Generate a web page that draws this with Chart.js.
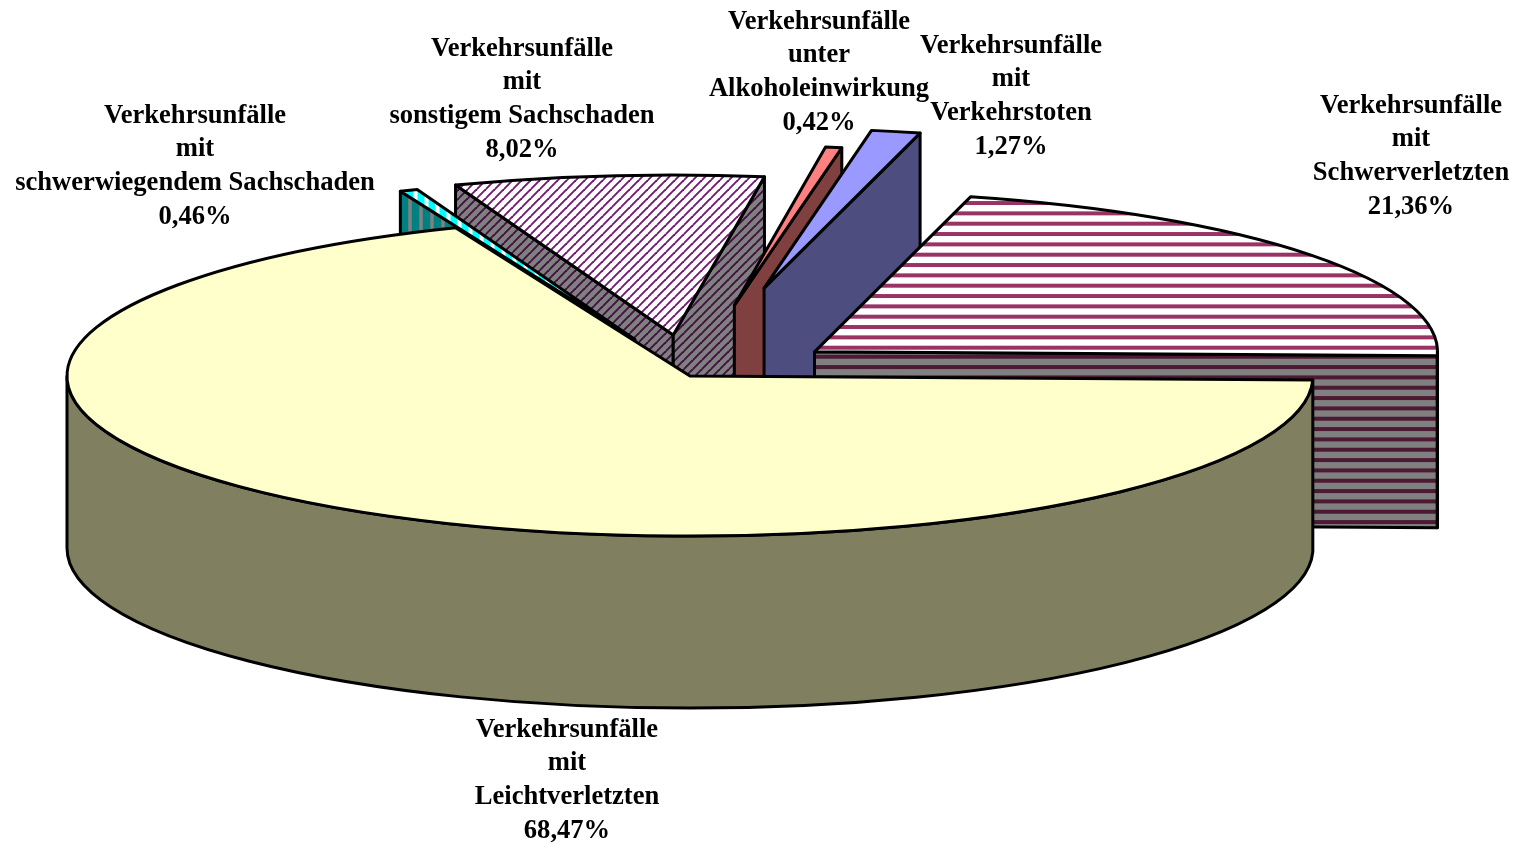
<!DOCTYPE html>
<html>
<head>
<meta charset="utf-8">
<style>
  body { margin: 0; background: #fff; }
  canvas { display: block; }
</style>
<script src="https://cdn.jsdelivr.net/npm/chart.js@4"></script>
</head>
<body>
<canvas id="unfallChart" width="1518" height="844"></canvas>
<script>
// data, in pie order (clockwise)
const categories = [
    ['Verkehrsunfälle', 'mit', 'Leichtverletzten'],
    ['Verkehrsunfälle', 'mit', 'schwerwiegendem Sachschaden'],
    ['Verkehrsunfälle', 'mit', 'sonstigem Sachschaden'],
    ['Verkehrsunfälle', 'unter', 'Alkoholeinwirkung'],
    ['Verkehrsunfälle', 'mit', 'Verkehrstoten'],
    ['Verkehrsunfälle', 'mit', 'Schwerverletzten']
];
const shares = [68.47, 0.46, 8.02, 0.42, 1.27, 21.36];

// 3d look
const TILT = 0.257;
const DEPTH = 172;
const explode = [0, 152, 160, 278, 350, 156];
const drawOrder = [2, 1, 3, 4, 5, 0];
const labelPos = [[567, 730], [195, 116], [522, 49], [819, 22], [1011, 46], [1411, 106]];
const LINE_H = 33.6;

function stripes(bg, fg, kind, tile, count, width, phase) {
    const c = document.createElement('canvas');
    c.width = c.height = tile;
    const g = c.getContext('2d');
    g.fillStyle = bg;
    g.fillRect(0, 0, tile, tile);
    g.strokeStyle = fg;
    g.lineWidth = width;
    const step = tile / count;
    for (let i = -1; i <= count + 1; i++) {
        const p = i * step + phase;
        g.beginPath();
        if (kind === 'h') { g.moveTo(0, p); g.lineTo(tile, p); }
        if (kind === 'v') { g.moveTo(p, 0); g.lineTo(p, tile); }
        if (kind === 'd') { g.moveTo(p - tile, tile); g.lineTo(p + tile, -tile); }
        g.stroke();
    }
    return g.createPattern(c, 'repeat');
}

const ctx = document.getElementById('unfallChart').getContext('2d');

const topFills = [
    '#FFFFCC',
    stripes('#FFFFFF', '#00FFFF', 'v', 44, 4, 7, 3),
    stripes('#FFFFFF', '#701A70', 'd', 9, 1, 1.9, 0),
    '#FF8080',
    '#9999FF',
    stripes('#FFFFFF', '#993366', 'h', 31, 3, 4, 6.7)
];
const wallFills = [
    '#808060',
    stripes('#008080', '#808080', 'v', 44, 4, 3.5, 3),
    stripes('#808080', '#401040', 'd', 9, 1, 1.9, 0),
    '#804040',
    '#4D4D80',
    stripes('#808080', '#4D1A33', 'h', 31, 3, 4, 5.4)
];

function face(g, pts, fill) {
    g.beginPath();
    pts.forEach(function (p, i) { i ? g.lineTo(p[0], p[1]) : g.moveTo(p[0], p[1]); });
    g.closePath();
    g.fillStyle = fill;
    g.fill();
    g.stroke();
}

// walls of one slice, only the sides that look towards the viewer
function drawWalls(g, cx, cy, r, a0, a1, fill) {
    const rim = function (a) { return [cx + Math.cos(a) * r, cy + Math.sin(a) * r * TILT]; };
    const radial = function (a) {
        const p = rim(a);
        face(g, [[cx, cy], p, [p[0], p[1] + DEPTH], [cx, cy + DEPTH]], fill);
    };
    if (Math.sin(a0 - Math.PI / 2) > 0) radial(a0);
    if (Math.sin(a1 + Math.PI / 2) > 0) radial(a1);
    [0, 2 * Math.PI].forEach(function (base) {
        const from = Math.max(a0, base);
        const to = Math.min(a1, base + Math.PI);
        if (to <= from) return;
        g.beginPath();
        g.ellipse(cx, cy, r, r * TILT, 0, from, to);
        g.ellipse(cx, cy + DEPTH, r, r * TILT, 0, to, from, true);
        g.closePath();
        g.fillStyle = fill;
        g.fill();
        g.stroke();
    });
}

const pie3d = {
    id: 'pie3d',
    beforeDatasetDraw: function (chart, args) {
        const g = chart.ctx;
        const arcs = args.meta.data;
        g.save();
        g.lineWidth = 3;
        g.lineJoin = 'round';
        g.strokeStyle = '#000';
        drawOrder.forEach(function (i) {
            const arc = arcs[i];
            const mid = (arc.startAngle + arc.endAngle) / 2;
            const cx = arc.x + Math.cos(mid) * explode[i];
            const cy = arc.y + Math.sin(mid) * explode[i] * TILT;

            drawWalls(g, cx, cy, arc.outerRadius, arc.startAngle, arc.endAngle, wallFills[i]);

            // top face: the library's arc, squashed to an ellipse
            g.save();
            g.translate(cx, cy);
            g.scale(1, TILT);
            g.translate(-arc.x, -arc.y);
            if (typeof topFills[i] !== 'string') {
                topFills[i].setTransform(g.getTransform().inverse());
            }
            arc.draw(g);
            g.restore();

            g.beginPath();
            g.moveTo(cx, cy);
            g.ellipse(cx, cy, arc.outerRadius, arc.outerRadius * TILT, 0, arc.startAngle, arc.endAngle);
            g.closePath();
            g.stroke();
        });
        g.restore();
        return false;
    },
    afterDraw: function (chart) {
        const g = chart.ctx;
        g.save();
        g.font = 'bold 26.6px "Liberation Serif"';
        g.fillStyle = '#000';
        g.textAlign = 'center';
        g.textBaseline = 'middle';
        categories.forEach(function (lines, i) {
            const pct = shares[i].toFixed(2).replace('.', ',') + '%';
            lines.concat(pct).forEach(function (line, n) {
                g.fillText(line, labelPos[i][0], labelPos[i][1] + n * LINE_H);
            });
        });
        g.restore();
    }
};

new Chart(ctx, {
    type: 'pie',
    plugins: [pie3d],
    data: {
        labels: categories.map(function (c) { return c.join(' '); }),
        datasets: [{
            data: shares,
            backgroundColor: topFills,
            borderWidth: 0,
            radius: 623
        }]
    },
    options: {
        responsive: false,
        animation: false,
        rotation: 91.4,
        layout: { padding: { right: 138, bottom: 92 } },
        plugins: {
            legend: { display: false },
            tooltip: { enabled: false }
        }
    }
});
</script>
</body>
</html>
